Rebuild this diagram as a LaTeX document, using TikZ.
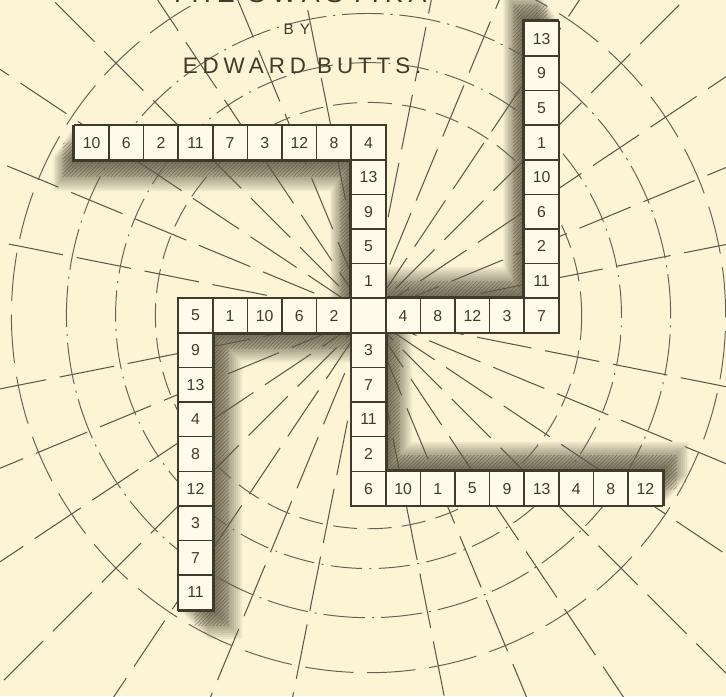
\documentclass[tikz,border=0pt]{standalone}
\usepackage{fontspec}
\setmainfont{Liberation Sans}
\setsansfont{Liberation Sans}
\usetikzlibrary{patterns}
\definecolor{swkpaper}{HTML}{FCF4D5}
\definecolor{swkcell}{HTML}{FFFBEA}
\definecolor{swkink}{HTML}{3F3A2A}

\begin{document}
\begin{tikzpicture}[
  font=\sffamily,
  cell/.style={draw=swkink, line width=1.3pt, fill=swkcell, minimum size=1cm,
               inner sep=0pt, font=\sffamily\fontsize{13}{13}\selectfont, text=swkink},
  ray/.style={swkink!85, line width=0.85pt, dash pattern=on 1.6cm off 0.4cm},
  ring/.style={swkink!80, line width=0.8pt},
  edge/.style={swkink, line width=4pt},
  ttl/.style={font=\sffamily\fontsize{#1}{#1}\selectfont, text=swkink, anchor=base, inner sep=0pt},
]

\useasboundingbox (-10.65,-11.0) rectangle (10.33,9.12);
\fill[swkpaper] (-10.65,-11.0) rectangle (10.33,9.12);

% ---------------- shadows inside each arm ---------------------------
% rotation / push of the shadow in the arm's own frame
\foreach \r/\dx/\dy in {0/-0.6/-0.9, -90/-0.9/-0.6, -180/-0.75/-0.85, -270/-0.85/-0.85} {
  \begin{scope}[rotate=\r]
    \foreach \t in {1,...,14}
      \fill[swkink, opacity=0.075, shift={(\dx*\t/14,\dy*\t/14)}]
        (-8.5,5.5) -- (0.5,5.5) -- (0.5,0.5) -- (-0.5,0.5)
        -- (-0.5,4.5) -- (-8.5,4.5) -- cycle;
    \fill[pattern=north east lines, pattern color=swkink, opacity=0.45,
          shift={(0.55*\dx,0.55*\dy)}]
        (-8.5,5.5) -- (0.5,5.5) -- (0.5,0.5) -- (-0.5,0.5)
        -- (-0.5,4.5) -- (-8.5,4.5) -- cycle;
  \end{scope}
}

% ---------------- rays and rings ------------------------------------
\begin{scope}
  \clip (-10.65,-11.0) rectangle (10.33,9.12);
  \foreach \k in {1,...,31} {
    \pgfmathtruncatemacro\m{mod(\k,8)}
    \pgfmathsetmacro\ph{mod(\k*7,19)/10}
    \ifnum\m>0
      \draw[ray, dash phase=\ph cm] (0,0) -- (\k*11.25:16);
    \fi
  }
  \draw[ring, dash pattern=on 0.7cm off 0.3cm] (0,0) circle (6.16);
  \draw[ring, dash pattern=on 0.9cm off 0.22cm on 0.05cm off 0.22cm] (0,0) circle (7.31);
  \draw[ring, dash pattern=on 1.2cm off 0.2cm on 0.06cm off 0.2cm] (0,0) circle (8.73);
  \draw[ring, dash pattern=on 1.4cm off 0.4cm] (0,0) circle (10.32);
\end{scope}

% ---------------- dark inner edges ----------------------------------
\foreach \r in {0,-90,-180,-270}
  \draw[edge, rotate=\r] (-8.5,5.5) -- (-8.5,4.5) -- (-0.5,4.5) -- (-0.5,0.5);

% ---------------- cells ---------------------------------------------
\node[cell] (mid) at (0,0) {};
% top arm
\foreach \v [count=\i] in {1,5,9,13}
  \node[cell] (up\i) at (0,\i) {\v};
\foreach \v [count=\i] in {10,6,2,11,7,3,12,8,4}
  \node[cell] (top\i) at (\i-9,5) {\v};
% right arm
\foreach \v [count=\i] in {4,8,12,3,7}
  \node[cell] (mr\i) at (\i,0) {\v};
\foreach \v [count=\i] in {11,2,6,10,1,5,9,13}
  \node[cell] (rgt\i) at (5,\i) {\v};
% bottom arm
\foreach \v [count=\i] in {3,7,11,2}
  \node[cell] (dn\i) at (0,-\i) {\v};
\foreach \v [count=\i] in {6,10,1,5,9,13,4,8,12}
  \node[cell] (bot\i) at (\i-1,-5) {\v};
% left arm
\foreach \v [count=\i] in {2,6,10,1,5}
  \node[cell] (ml\i) at (-\i,0) {\v};
\foreach \v [count=\i] in {9,13,4,8,12,3,7,11}
  \node[cell] (lft\i) at (-5,-\i) {\v};

% ---------------- title ---------------------------------------------
\node[ttl=22] (title) at (-2.04,9.04)
  {\addfontfeature{LetterSpace=22}THE SWASTIKA};
\node[ttl=12.6] (by) at (-2.07,8.11)
  {\addfontfeature{LetterSpace=40}BY};
\node[ttl=18.4] (author) at (-1.92,7.01)
  {\addfontfeature{LetterSpace=22}EDWARD BUTTS.};

\end{tikzpicture}
\end{document}
